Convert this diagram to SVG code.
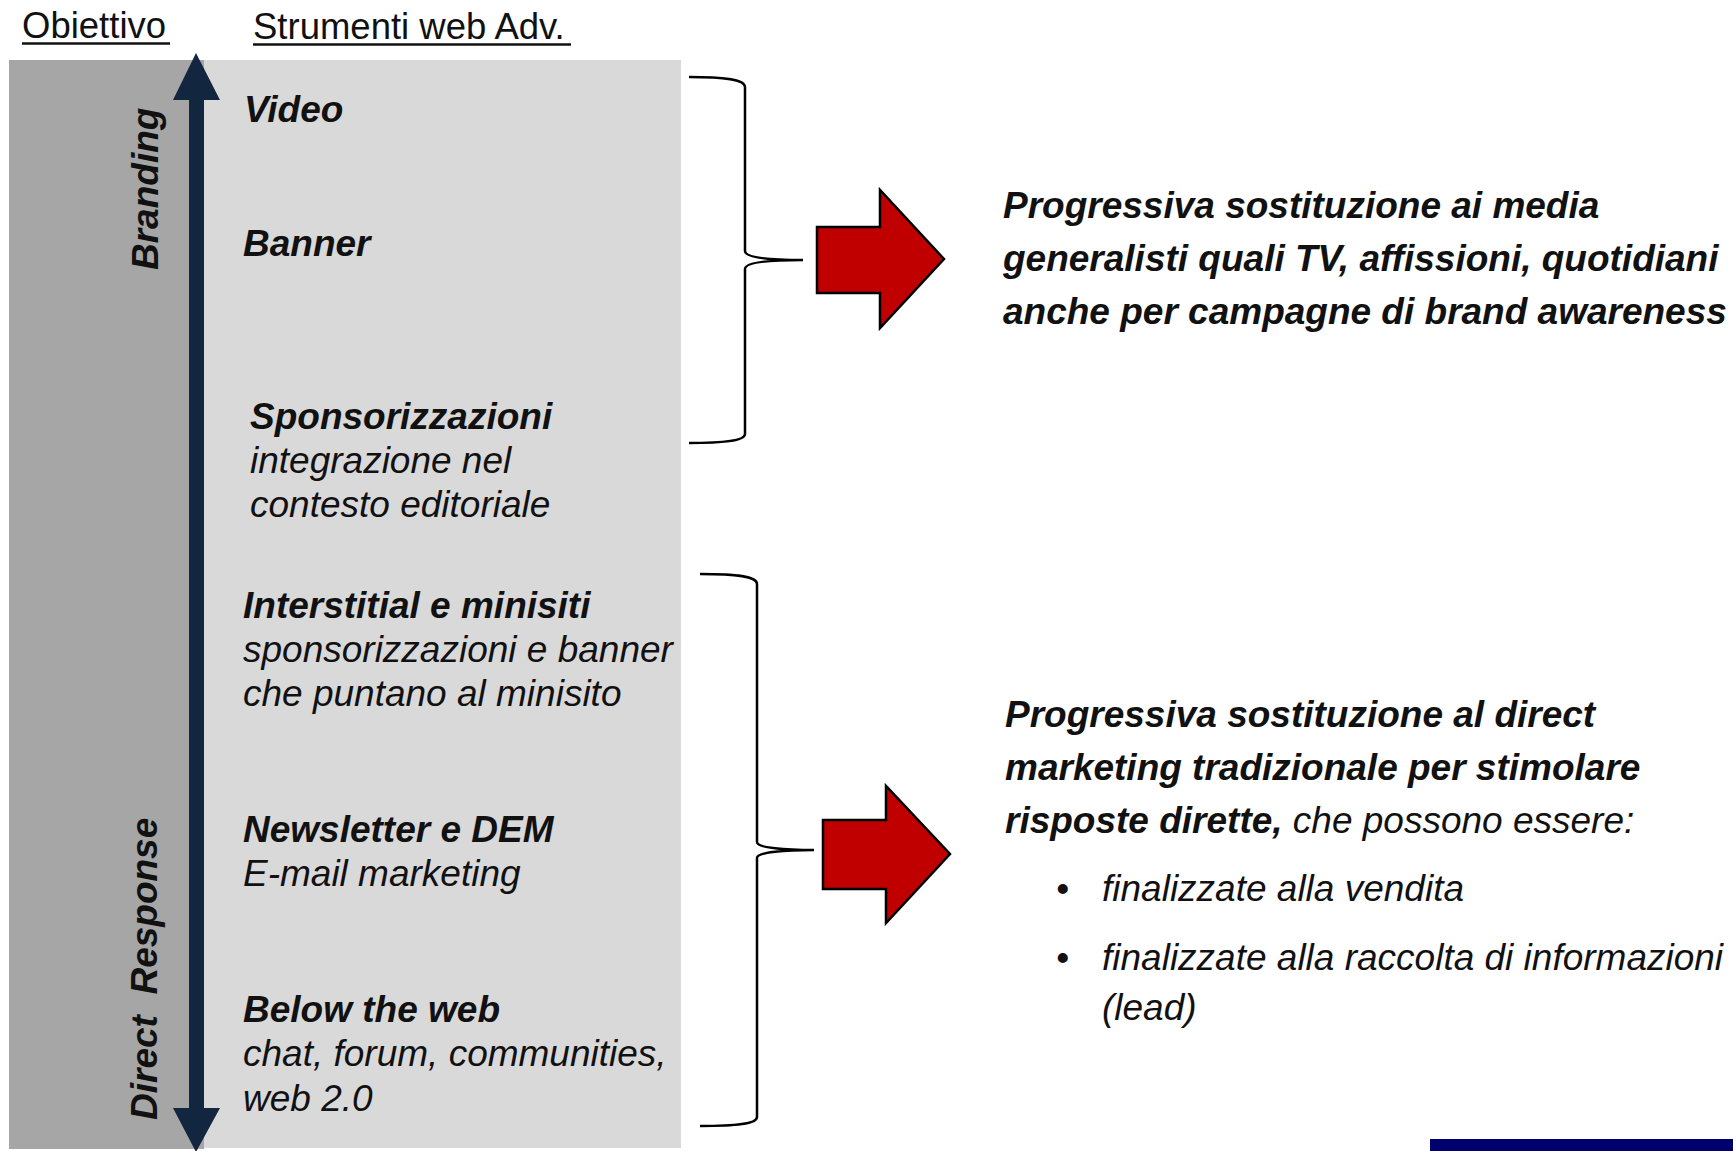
<svg xmlns="http://www.w3.org/2000/svg" width="1733" height="1151" viewBox="0 0 1733 1151">
  <style>
    text { font-family: "Liberation Sans", Arial, sans-serif; fill: #111; }
    .hdr { font-size: 36.5px; }
    .bi { font-size: 37px; font-weight: bold; font-style: italic; }
    .ri { font-size: 37px; font-style: italic; }
    .brace { fill: none; stroke: #000; stroke-width: 2.5; }
    .bigarrow { fill: #C00000; stroke: #000; stroke-width: 2.5; stroke-linejoin: miter; }
  </style>
  <rect width="1733" height="1151" fill="#FFFFFF"/>

  <g id="headers">
    <text class="hdr" x="22" y="38">Obiettivo</text>
    <line x1="22" y1="43.5" x2="170" y2="43.5" stroke="#111" stroke-width="2.5"/>
    <text class="hdr" x="253" y="39">Strumenti web Adv.</text>
    <line x1="253" y1="44.5" x2="571" y2="44.5" stroke="#111" stroke-width="2.5"/>
  </g>

  <g id="panels">
    <rect x="9" y="60" width="195" height="1089" fill="#A6A6A6"/>
    <rect x="204" y="60" width="477" height="1088" fill="#D9D9D9"/>
  </g>

  <g id="axis">
    <polygon points="196,53 220,100 204,100 204,1108 220,1108 196,1152 173,1108 189,1108 189,100 173,100" fill="#12263F"/>
    <text class="bi" transform="translate(158,270) rotate(-90)">Branding</text>
    <text class="bi" transform="translate(157,1120) rotate(-90)">Direct&#160;&#160;Response</text>
  </g>

  <g id="tools">
    <g id="video"><text class="bi" x="244" y="122">Video</text></g>
    <g id="banner"><text class="bi" x="243" y="256">Banner</text></g>
    <g id="sponsorizzazioni">
      <text class="bi" x="250" y="429">Sponsorizzazioni</text>
      <text class="ri" x="250" y="473">integrazione nel</text>
      <text class="ri" x="250" y="517">contesto editoriale</text>
    </g>
    <g id="interstitial">
      <text class="bi" x="243" y="618">Interstitial e minisiti</text>
      <text class="ri" x="243" y="662">sponsorizzazioni e banner</text>
      <text class="ri" x="243" y="706">che puntano al minisito</text>
    </g>
    <g id="newsletter">
      <text class="bi" x="243" y="842">Newsletter e DEM</text>
      <text class="ri" x="243" y="886">E-mail marketing</text>
    </g>
    <g id="belowweb">
      <text class="bi" x="243" y="1022">Below the web</text>
      <text class="ri" x="243" y="1066">chat, forum, communities,</text>
      <text class="ri" x="243" y="1111">web 2.0</text>
    </g>
  </g>

  <g id="connectors">
    <path class="brace" d="M689,77 C722,77 745,79 745,87 L745,251 C745,258 772,260 803,260 C772,260 745,262 745,269 L745,434 C745,441 722,443 689,443"/>
    <path class="brace" d="M700,574 C736,574 757,576 757,584 L757,842 C757,848 786,850 814,850 C786,850 757,852 757,858 L757,1117 C757,1124 736,1126 700,1126"/>
    <polygon class="bigarrow" points="817,227 880,227 880,190 944,259 880,328 880,293 817,293"/>
    <polygon class="bigarrow" points="823,820 886,820 886,786 950,854 886,923 886,889 823,889"/>
  </g>

  <g id="branding-result">
    <text class="bi" x="1003" y="218">Progressiva sostituzione ai media</text>
    <text class="bi" x="1003" y="271">generalisti quali TV, affissioni, quotidiani</text>
    <text class="bi" x="1003" y="324">anche per campagne di brand awareness</text>
  </g>

  <g id="direct-result">
    <text class="bi" x="1005" y="727">Progressiva sostituzione al direct</text>
    <text class="bi" x="1005" y="780">marketing tradizionale per stimolare</text>
    <text class="bi" x="1005" y="833">risposte dirette,<tspan class="ri" font-weight="normal"> che possono essere:</tspan></text>
    <text class="ri" x="1056" y="901" font-style="normal">•</text>
    <text class="ri" x="1102" y="901">finalizzate alla vendita</text>
    <text class="ri" x="1056" y="970" font-style="normal">•</text>
    <text class="ri" x="1102" y="970">finalizzate alla raccolta di informazioni</text>
    <text class="ri" x="1102" y="1020">(lead)</text>
  </g>

  <rect x="1430" y="1139" width="303" height="12" fill="#00006E"/>
</svg>
